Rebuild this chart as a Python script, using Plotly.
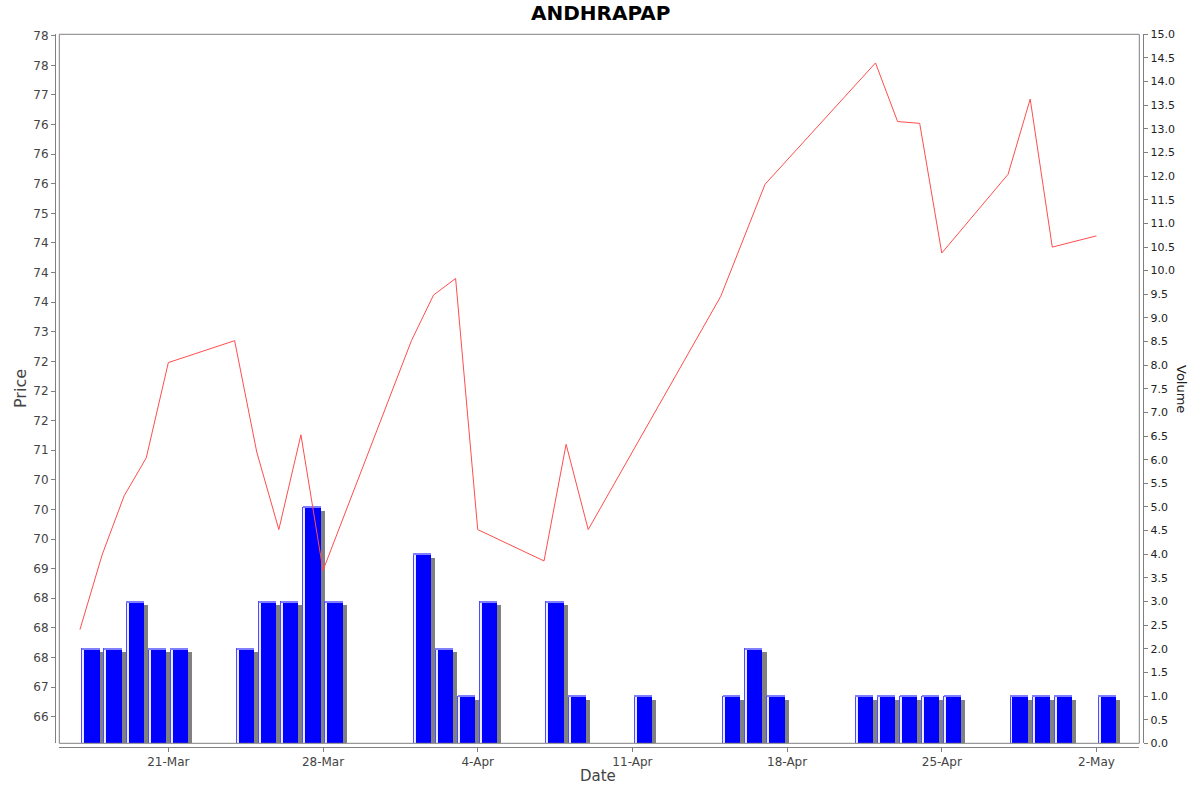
import plotly.graph_objects as go
import pandas as pd

# ---- data ----
price_dates = ["2014-03-17", "2014-03-18", "2014-03-19", "2014-03-20", "2014-03-21",
               "2014-03-24", "2014-03-25", "2014-03-26", "2014-03-27", "2014-03-28",
               "2014-04-01", "2014-04-02", "2014-04-03", "2014-04-04",
               "2014-04-07", "2014-04-08", "2014-04-09",
               "2014-04-15", "2014-04-17",
               "2014-04-22", "2014-04-23", "2014-04-24", "2014-04-25",
               "2014-04-28", "2014-04-29", "2014-04-30", "2014-05-02"]
prices = [67.97, 69.23, 70.23, 70.87, 72.48,
          72.85, 70.97, 69.66, 71.26, 68.97,
          72.85, 73.62, 73.90, 69.66,
          69.13, 71.10, 69.66,
          73.60, 75.49,
          77.54, 76.55, 76.52, 74.33,
          75.66, 76.93, 74.43, 74.62]

volume_dates = ["2014-03-17", "2014-03-18", "2014-03-19", "2014-03-20", "2014-03-21",
                "2014-03-24", "2014-03-25", "2014-03-26", "2014-03-27", "2014-03-28",
                "2014-04-01", "2014-04-02", "2014-04-03", "2014-04-04",
                "2014-04-07", "2014-04-08", "2014-04-11",
                "2014-04-15", "2014-04-16", "2014-04-17",
                "2014-04-21", "2014-04-22", "2014-04-23", "2014-04-24", "2014-04-25",
                "2014-04-28", "2014-04-29", "2014-04-30", "2014-05-02"]
volumes = [2, 2, 3, 2, 2,
           2, 3, 3, 5, 3,
           4, 2, 1, 3,
           3, 1, 1,
           1, 2, 1,
           1, 1, 1, 1, 1,
           1, 1, 1, 1]

price_tick_values = [66.5, 67.0, 67.5, 68.0, 68.5, 69.0, 69.5, 70.0, 70.5, 71.0, 71.5, 72.0,
                     72.5, 73.0, 73.5, 74.0, 74.5, 75.0, 75.5, 76.0, 76.5, 77.0, 77.5, 78.0]
price_tick_labels = ["66", "67", "68", "68", "68", "69", "70", "70", "70", "71", "72", "72",
                     "72", "73", "74", "74", "74", "75", "76", "76", "76", "77", "78", "78"]
volume_tick_values = [0.0, 0.5, 1.0, 1.5, 2.0, 2.5, 3.0, 3.5, 4.0, 4.5, 5.0, 5.5, 6.0, 6.5, 7.0,
                      7.5, 8.0, 8.5, 9.0, 9.5, 10.0, 10.5, 11.0, 11.5, 12.0, 12.5, 13.0, 13.5,
                      14.0, 14.5, 15.0]

title_text = "ANDHRAPAP"
x_title = "Date"
y_title = "Price"
y2_title = "Volume"

# ---- geometry (pixels of a 1200x792 canvas) ----
W, H = 1200, 792
fx0, fx1 = 59.3, 1139.3
fy0, fy1 = 34.3, 743.3
px_per_day = 22.09
px_per_vol = (fy1 - fy0) / 15.0

DAY_MS = 86400000
PX_MS = DAY_MS / px_per_day
bar_w = 0.8 * DAY_MS
vd = pd.to_datetime(pd.Series(volume_dates))
bar_x = vd + pd.Timedelta(hours=12)
bar_left = bar_x - pd.Timedelta(days=0.4)
shadow_x = bar_x + pd.Timedelta(milliseconds=4.0 * PX_MS)
shadow_y = [v - 4.0 / px_per_vol for v in volumes]
edge_x = bar_left + pd.Timedelta(milliseconds=0.5 * PX_MS)
stripe_x = bar_left + pd.Timedelta(milliseconds=1.5 * PX_MS)
top_h = 1.0 / px_per_vol
top_base = [v - top_h for v in volumes]

font = "DejaVu Sans"
axis_col = "#808080"

fig = go.Figure()
fig.add_trace(go.Bar(x=shadow_x, y=shadow_y, width=bar_w, marker=dict(color="#808080", line=dict(width=0)),
                     yaxis="y", hoverinfo="skip", showlegend=False))
fig.add_trace(go.Bar(x=bar_x, y=volumes, width=bar_w,
                     marker=dict(color="#0000ff", line=dict(width=0)),
                     yaxis="y", name="Volume", showlegend=False))
fig.add_trace(go.Bar(x=edge_x, y=volumes, width=PX_MS,
                     marker=dict(color="#4d4dff", line=dict(width=0)),
                     yaxis="y", hoverinfo="skip", showlegend=False))
fig.add_trace(go.Bar(x=stripe_x, y=volumes, width=PX_MS,
                     marker=dict(color="#ffffff", line=dict(width=0)), opacity=0.9,
                     yaxis="y", hoverinfo="skip", showlegend=False))
fig.add_trace(go.Bar(x=bar_x, y=[top_h] * len(volumes), base=top_base, width=bar_w,
                     marker=dict(color="#7f7fff", line=dict(width=0)),
                     yaxis="y", hoverinfo="skip", showlegend=False))
fig.add_trace(go.Scatter(x=price_dates, y=prices, mode="lines",
                         line=dict(color="#ff4d4d", width=1), yaxis="y2",
                         name="Price", showlegend=False))

x_start = pd.Timestamp("2014-03-21") - pd.Timedelta(days=(168.3 - fx0) / px_per_day)
x_end = pd.Timestamp("2014-05-02") + pd.Timedelta(days=(fx1 - 1096.5) / px_per_day)
p_top = 78.0 + (35.7 - fy0) / 59.2
p_bot = 66.5 - (fy1 - 716.7) / 59.2

dom_x = [fx0 / W, fx1 / W]
dom_y = [1 - fy1 / H, 1 - fy0 / H]

fig.update_layout(
    width=W, height=H, autosize=False,
    margin=dict(l=0, r=0, t=0, b=0, pad=0),
    showlegend=False,
    paper_bgcolor="white", plot_bgcolor="white",
    barmode="overlay", bargap=0,
    font=dict(family=font, size=12, color="#444444"),
    xaxis=dict(domain=dom_x, type="date", range=[x_start, x_end],
               anchor="free", position=1 - 746.7 / H, automargin=False,
               showline=True, linecolor=axis_col, linewidth=1,
               ticks="outside", ticklen=4, tickcolor=axis_col,
               tick0="2014-03-21", dtick=7 * DAY_MS, tickformat="%-d-%b",
               showgrid=False, zeroline=False,
               tickfont=dict(family=font, size=12, color="#444444")),
    yaxis=dict(domain=dom_y, range=[0, 15], side="right",
               anchor="free", position=1143.3 / W, automargin=False,
               tickvals=volume_tick_values, tickformat=".1f",
               showline=True, linecolor=axis_col, linewidth=1,
               ticks="outside", ticklen=4, tickcolor=axis_col,
               showgrid=False, zeroline=False,
               tickfont=dict(family=font, size=11, color="#222222")),
    yaxis2=dict(overlaying="y", range=[p_bot, p_top], side="left",
                anchor="free", position=55.0 / W, automargin=False,
                tickvals=price_tick_values, ticktext=price_tick_labels,
                showline=True, linecolor=axis_col, linewidth=1,
                ticks="outside", ticklen=4, tickcolor=axis_col,
                showgrid=False, zeroline=False,
                tickfont=dict(family=font, size=12, color="#444444")),
    shapes=[dict(type="rect", xref="paper", yref="paper",
                 x0=dom_x[0], x1=dom_x[1], y0=dom_y[0], y1=dom_y[1],
                 line=dict(color=axis_col, width=1), layer="above")],
    annotations=[
        dict(text="<b>" + title_text + "</b>", x=0.5, y=1 - 13.0 / H, xref="paper", yref="paper",
             showarrow=False, xanchor="center", yanchor="middle",
             font=dict(family=font, size=20, color="#000000")),
        dict(text=x_title, x=598.0 / W, y=1 - 776.0 / H, xref="paper", yref="paper",
             showarrow=False, xanchor="center", yanchor="middle",
             font=dict(family=font, size=15, color="#444444")),
        dict(text=y_title, x=20.0 / W, y=1 - 389.0 / H, xref="paper", yref="paper",
             showarrow=False, xanchor="center", yanchor="middle", textangle=-90,
             font=dict(family=font, size=16, color="#444444")),
        dict(text=y2_title, x=1182.0 / W, y=1 - 389.0 / H, xref="paper", yref="paper",
             showarrow=False, xanchor="center", yanchor="middle", textangle=90,
             font=dict(family=font, size=13, color="#222222")),
    ],
)

fig.write_html("out.html", config={"displayModeBar": False},
               post_script="document.body.style.margin='0';document.body.style.overflow='hidden';")
